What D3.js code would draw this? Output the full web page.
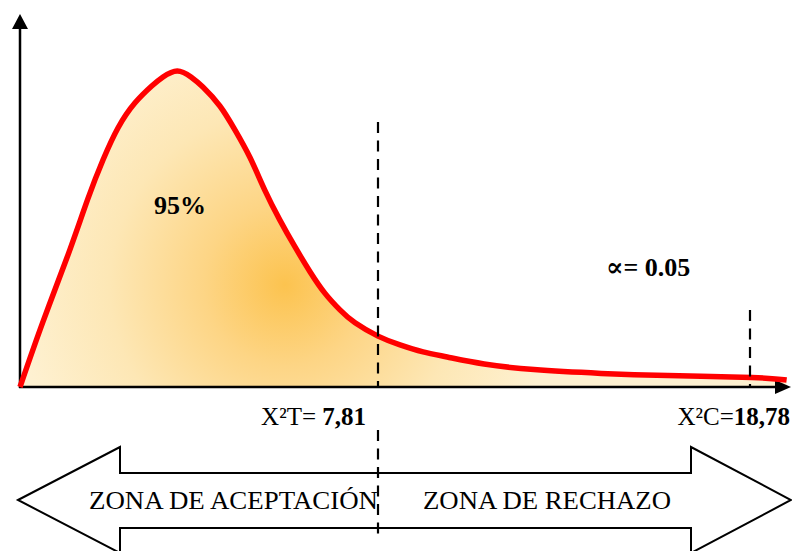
<!DOCTYPE html>
<html>
<head>
<meta charset="utf-8">
<script src="https://cdn.jsdelivr.net/npm/d3@7"></script>
<style>
  html, body { margin: 0; padding: 0; background: #fff; }
  svg { display: block; font-family: "Liberation Serif", "Times New Roman", serif; }
</style>
</head>
<body>
<svg width="792" height="551"></svg>
<script>
// chi-square curve (x in chi2 units, relative height)
let chiX = [0, 0.5, 1.03, 1.48, 1.81, 2.14, 2.51, 2.88, 3.12, 3.43, 3.73, 3.99, 4.36, 4.69, 5.02, 5.34, 5.67, 6.0, 6.33, 6.65, 6.98, 7.31, 7.81, 8.46, 9.14, 9.85, 10.94, 12.41, 14.39, 16.36, 18.84, 19.87]
let density = [0, 0.206, 0.411, 0.595, 0.718, 0.82, 0.899, 0.953, 0.981, 1.0, 0.981, 0.949, 0.889, 0.813, 0.725, 0.623, 0.528, 0.443, 0.364, 0.297, 0.244, 0.203, 0.161, 0.133, 0.111, 0.095, 0.073, 0.055, 0.043, 0.036, 0.03, 0.022]

let critTab = 7.81
let critCalc = 18.78
let alpha = '0.05'
let confidence = '95%'
let zoneLabels = ['ZONA DE ACEPTACIÓN', 'ZONA DE RECHAZO']

let svg = d3.select('svg')

// the picture is not drawn to scale, so the x scale is piecewise
let xScale = d3.scaleLinear()
               .domain([0, critTab, critCalc, 20])
               .range([20, 378, 750, 791])

let yScale = d3.scaleLinear()
               .domain([0, 1.18])
               .range([387, 14])

let points = chiX.map((d, i) => [d, density[i]])

// gradient fill
let defs = svg.append('defs')
let grad = defs.append('radialGradient')
               .attr('id', 'fillGrad')
               .attr('gradientUnits', 'userSpaceOnUse')
               .attr('cx', 285).attr('cy', 285).attr('r', 270)
let stops = [[0, '#fcc34f'], [0.3, '#fdd585'], [0.65, '#fde7b5'], [1, '#fef1d1']]
stops.forEach(s => {
    grad.append('stop').attr('offset', s[0]).attr('stop-color', s[1])
})

let area = d3.area()
             .x(d => xScale(d[0]))
             .y0(yScale(0))
             .y1(d => yScale(d[1]))
             .curve(d3.curveNatural)

let line = d3.line()
             .x(d => xScale(d[0]))
             .y(d => yScale(d[1]))
             .curve(d3.curveNatural)

svg.append('path')
   .datum(points)
   .attr('d', area)
   .attr('fill', 'url(#fillGrad)')

// axes
let x0 = xScale(0)
let y0 = yScale(0)
let xEnd = xScale(20)
let yEnd = yScale(1.18)

svg.append('line')
   .attr('x1', x0).attr('y1', y0 + 1)
   .attr('x2', x0).attr('y2', yEnd + 14)
   .attr('stroke', '#000').attr('stroke-width', 2.5)
svg.append('path')
   .attr('d', `M${x0},${yEnd} L${x0 - 8},${yEnd + 15} L${x0 + 8},${yEnd + 15} Z`)
   .attr('fill', '#000')

svg.append('line')
   .attr('x1', x0 - 1).attr('y1', y0)
   .attr('x2', xEnd - 15).attr('y2', y0)
   .attr('stroke', '#000').attr('stroke-width', 2.5)
svg.append('path')
   .attr('d', `M${xEnd},${y0} L${xEnd - 16},${y0 - 7} L${xEnd - 16},${y0 + 7} Z`)
   .attr('fill', '#000')

// red curve
svg.append('path')
   .datum(points)
   .attr('d', line)
   .attr('fill', 'none')
   .attr('stroke', '#ff0000')
   .attr('stroke-width', 5.5)
   .attr('stroke-linejoin', 'round')

// double arrow for the zones
let ay = 500
let notchL = 120
let notchR = 691
let arrowPts = [
    [x0 - 2, ay], [notchL, ay - 53], [notchL, ay - 27], [notchR, ay - 27], [notchR, ay - 53],
    [xEnd, ay], [notchR, ay + 53], [notchR, ay + 28], [notchL, ay + 28], [notchL, ay + 53]
]
svg.append('polygon')
   .attr('points', arrowPts.map(p => p.join(',')).join(' '))
   .attr('fill', '#fff')
   .attr('stroke', '#000')
   .attr('stroke-width', 2)

svg.append('text')
   .attr('x', 89).attr('y', 509)
   .attr('font-size', 25)
   .attr('textLength', 289)
   .attr('lengthAdjust', 'spacingAndGlyphs')
   .text(zoneLabels[0])
svg.append('text')
   .attr('x', 423).attr('y', 509)
   .attr('font-size', 25)
   .attr('textLength', 248)
   .attr('lengthAdjust', 'spacingAndGlyphs')
   .text(zoneLabels[1])

// dashed critical lines
let dash = '11,7.5'
svg.append('line')
   .attr('x1', xScale(critTab)).attr('y1', 122)
   .attr('x2', xScale(critTab)).attr('y2', y0)
   .attr('stroke', '#000').attr('stroke-width', 2.2)
   .attr('stroke-dasharray', dash)
svg.append('line')
   .attr('x1', xScale(critTab)).attr('y1', 430)
   .attr('x2', xScale(critTab)).attr('y2', 537)
   .attr('stroke', '#000').attr('stroke-width', 2.2)
   .attr('stroke-dasharray', dash)
svg.append('line')
   .attr('x1', xScale(critCalc)).attr('y1', 310)
   .attr('x2', xScale(critCalc)).attr('y2', y0)
   .attr('stroke', '#000').attr('stroke-width', 2.2)
   .attr('stroke-dasharray', dash)

// labels
let fmt = v => v.toFixed(2).replace('.', ',')

let tLab = svg.append('text')
              .attr('x', xScale(critTab) - 12).attr('y', 425)
              .attr('font-size', 25)
              .attr('text-anchor', 'end')
tLab.append('tspan').text('X²T= ')
tLab.append('tspan').attr('font-weight', 'bold').text(fmt(critTab))

let cLab = svg.append('text')
              .attr('x', xEnd - 1).attr('y', 425)
              .attr('font-size', 25)
              .attr('text-anchor', 'end')
cLab.append('tspan').text('X²C=')
cLab.append('tspan').attr('font-weight', 'bold').text(fmt(critCalc))

svg.append('text')
   .attr('x', 180).attr('y', 214)
   .attr('font-size', 26)
   .attr('font-weight', 'bold')
   .attr('text-anchor', 'middle')
   .text(confidence)

let aLab = svg.append('text')
              .attr('x', 606).attr('y', 276)
              .attr('font-size', 26)
              .attr('font-weight', 'bold')
aLab.append('tspan').attr('font-family', '"DejaVu Serif", serif').attr('font-size', 26).text('∝')
aLab.append('tspan').text('= ' + alpha)
</script>
</body>
</html>
